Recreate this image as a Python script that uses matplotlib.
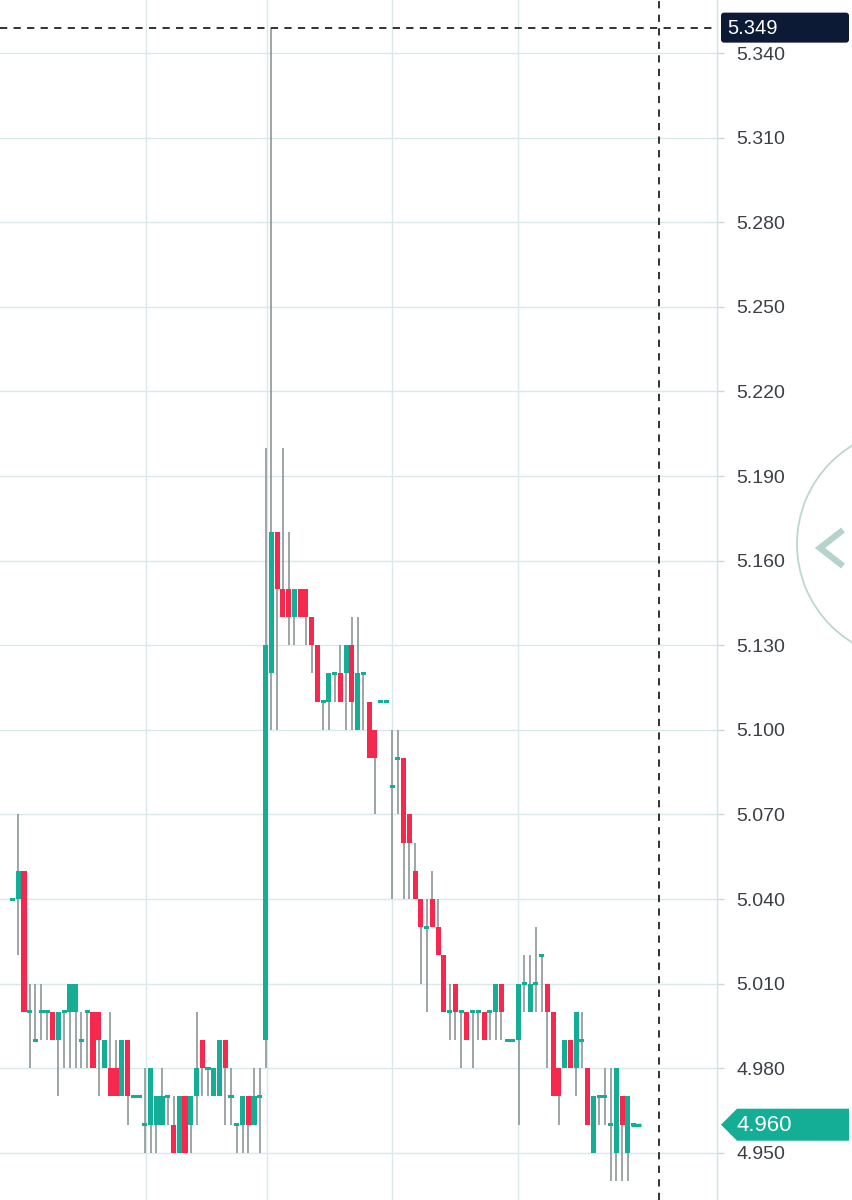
import numpy as np
import matplotlib.pyplot as plt
from matplotlib.patches import Polygon, FancyBboxPatch, Arc

# OHLC values (one entry per candle)
opens = [5.04, 5.04, 5.05, 5.00, 4.99, 5.00, 5.00, 5.00, 4.99, 5.00,
         5.00, 5.00, 4.99, 5.00, 5.00, 5.00, 4.98, 4.98, 4.98, 4.97,
         4.99, 4.97, 4.97, 4.96, 4.96, 4.96, 4.96, 4.97, 4.96, 4.95,
         4.97, 4.96, 4.97, 4.99, 4.98, 4.97, 4.97, 4.99, 4.97, 4.96,
         4.96, 4.97, 4.96, 4.97, 4.99, 5.12, 5.17, 5.15, 5.15, 5.14,
         5.15, 5.15, 5.14, 5.13, 5.11, 5.11, 5.12, 5.12, 5.12, 5.13,
         5.10, 5.12, 5.11, 5.10, 5.11, 5.11, 5.08, 5.09, 5.09, 5.07,
         5.05, 5.04, 5.03, 5.04, 5.03, 5.02, 5.00, 5.01, 5.00, 5.00,
         5.00, 5.00, 5.00, 5.00, 5.00, 5.01, 4.99, 4.99, 4.99, 5.01,
         5.00, 5.01, 5.02, 5.01, 5.00, 4.98, 4.98, 4.99, 4.98, 4.99,
         4.98, 4.95, 4.97, 4.97, 4.96, 4.95, 4.97, 4.95, 4.96]
highs = [5.04, 5.07, 5.05, 5.01, 5.01, 5.01, 5.00, 5.00, 5.00, 5.00,
         5.01, 5.01, 5.00, 5.00, 5.00, 5.00, 4.99, 5.00, 4.99, 4.99,
         4.99, 4.97, 4.97, 4.98, 4.98, 4.97, 4.98, 4.97, 4.97, 4.97,
         4.97, 4.97, 5.00, 4.99, 4.98, 4.98, 4.99, 4.99, 4.98, 4.96,
         4.97, 4.97, 4.98, 4.98, 5.20, 5.349, 5.17, 5.20, 5.17, 5.15,
         5.15, 5.15, 5.14, 5.13, 5.11, 5.12, 5.12, 5.13, 5.13, 5.14,
         5.14, 5.12, 5.11, 5.10, 5.11, 5.11, 5.10, 5.10, 5.09, 5.07,
         5.06, 5.04, 5.04, 5.05, 5.04, 5.02, 5.01, 5.01, 5.00, 5.00,
         5.00, 5.00, 5.00, 5.00, 5.01, 5.01, 4.99, 4.99, 5.01, 5.02,
         5.02, 5.03, 5.02, 5.01, 5.00, 4.98, 4.99, 4.99, 5.00, 5.00,
         4.98, 4.97, 4.97, 4.98, 4.98, 4.98, 4.97, 4.97, 4.96]
lows = [5.04, 5.02, 5.00, 4.98, 4.99, 4.99, 4.99, 4.99, 4.97, 4.98,
        4.98, 4.98, 4.98, 4.98, 4.98, 4.97, 4.98, 4.97, 4.97, 4.97,
        4.96, 4.97, 4.97, 4.95, 4.95, 4.95, 4.96, 4.96, 4.95, 4.95,
        4.95, 4.95, 4.96, 4.97, 4.97, 4.97, 4.97, 4.96, 4.96, 4.95,
        4.95, 4.95, 4.96, 4.95, 4.98, 5.10, 5.10, 5.14, 5.13, 5.13,
        5.14, 5.13, 5.12, 5.11, 5.10, 5.10, 5.11, 5.11, 5.10, 5.10,
        5.10, 5.10, 5.09, 5.07, 5.11, 5.11, 5.04, 5.07, 5.04, 5.04,
        5.04, 5.01, 5.00, 5.03, 5.02, 5.00, 4.99, 4.99, 4.98, 4.99,
        4.98, 4.99, 4.99, 4.99, 4.99, 4.99, 4.99, 4.99, 4.96, 5.00,
        5.00, 5.00, 5.00, 4.98, 4.97, 4.96, 4.98, 4.98, 4.97, 4.98,
        4.96, 4.95, 4.96, 4.96, 4.94, 4.94, 4.94, 4.94, 4.96]
closes = [5.04, 5.05, 5.00, 5.00, 4.99, 5.00, 5.00, 4.99, 5.00, 5.00,
          5.01, 5.01, 4.99, 5.00, 4.98, 4.99, 4.99, 4.97, 4.97, 4.99,
          4.97, 4.97, 4.97, 4.96, 4.98, 4.97, 4.97, 4.97, 4.95, 4.97,
          4.95, 4.97, 4.98, 4.98, 4.98, 4.98, 4.99, 4.98, 4.97, 4.96,
          4.97, 4.96, 4.97, 4.97, 5.13, 5.17, 5.15, 5.14, 5.14, 5.15,
          5.14, 5.14, 5.13, 5.11, 5.11, 5.12, 5.12, 5.11, 5.13, 5.11,
          5.12, 5.12, 5.09, 5.09, 5.11, 5.11, 5.08, 5.09, 5.06, 5.06,
          5.04, 5.03, 5.03, 5.03, 5.02, 5.00, 5.00, 5.00, 5.00, 4.99,
          5.00, 5.00, 4.99, 5.00, 5.01, 5.00, 4.99, 4.99, 5.01, 5.01,
          5.01, 5.01, 5.02, 5.00, 4.97, 4.97, 4.99, 4.98, 5.00, 4.99,
          4.96, 4.97, 4.97, 4.97, 4.96, 4.98, 4.96, 4.97, 4.96]

price_ticks = [4.950, 4.980, 5.010, 5.040, 5.070, 5.100, 5.130, 5.160,
               5.190, 5.220, 5.250, 5.280, 5.310, 5.340]
time_grid = [23.2, 44.2, 66.0, 87.9]   # vertical grid positions (candle index)
cursor_x = 112.4                       # crosshair position (candle index)
cursor_price = 5.349
last_price = 4.960

up_color = '#13ae95'
down_color = '#f7284d'
wick_color = '#8c9696'
grid_color = '#d9e8e8'

W, H = 853, 1200
fig = plt.figure(figsize=(W / 100, H / 100), dpi=100)
fig.patch.set_facecolor('white')
ax = fig.add_axes([0, 0, 717 / W, 1])

ymin, ymax = 4.9333, 5.3588
ax.set_ylim(ymin, ymax)
ax.set_xlim(-2.17, 122.5)
px = (ymax - ymin) / H   # one pixel in price units

o = np.array(opens)
h = np.array(highs)
l = np.array(lows)
c = np.array(closes)
idx = np.arange(len(o))

# wicks
ax.vlines(idx, l, h, color=wick_color, linewidth=1.2, zorder=3)

# bodies (flat candles get a thin 3px bar)
up = c >= o
bottom = np.minimum(o, c)
height = np.abs(c - o)
doji = height < 1e-9
bottom = np.where(doji, o - 1.5 * px, bottom)
height = np.where(doji, 3 * px, height)
colors = np.where(up, up_color, down_color)
ax.bar(idx, height, bottom=bottom, width=0.88, color=colors,
       linewidth=0, zorder=4)

# grid and axes styling
ax.set_yticks(price_ticks)
ax.set_xticks(time_grid)
ax.grid(True, color=grid_color, linewidth=1.0, zorder=0)
ax.set_axisbelow(True)
ax.yaxis.tick_right()
ax.set_yticklabels([f'{v:.3f}' for v in price_ticks])
ax.tick_params(axis='y', length=5, width=1, color='#c9d9d9', pad=9,
               labelsize=14, labelcolor='#3b3f45')
ax.tick_params(axis='x', length=0, labelbottom=False)
for lab in ax.get_yticklabels():
    lab.set_fontfamily('Liberation Sans')
for side in ['top', 'bottom', 'left']:
    ax.spines[side].set_visible(False)
ax.spines['right'].set_color('#d3e3e3')
ax.spines['right'].set_linewidth(1.0)

# crosshair
ax.axhline(cursor_price, color='#222222', linewidth=1.3,
           linestyle=(0, (4, 3.5)), zorder=6)
ax.axvline(cursor_x, color='#222222', linewidth=1.3,
           linestyle=(0, (4, 3.5)), zorder=6)

# last price marker on the chart
ax.hlines(last_price, len(o) - 1.4, len(o) + 0.2, color=up_color,
          linewidth=2.5, zorder=5)

# overlay in pixel coordinates for the price scale labels and handle
ov = fig.add_axes([0, 0, 1, 1], zorder=20)
ov.set_xlim(0, W)
ov.set_ylim(H, 0)
ov.axis('off')
ov.patch.set_alpha(0)


def price_to_px(p):
    return H - ax.transData.transform((0, p))[1]


yc = price_to_px(cursor_price)
ov.add_patch(FancyBboxPatch((721, yc - 15), 128, 30,
                            boxstyle='round,pad=0,rounding_size=3',
                            facecolor='#0c1a36', edgecolor='none'))
ov.text(727, yc + 1, f'{cursor_price:.3f}', color='white', fontsize=14.5,
        family='Liberation Sans', va='center', ha='left')

yl = price_to_px(last_price)
ov.add_patch(Polygon([(721, yl), (737, yl - 16), (849, yl - 16),
                      (849, yl + 16), (737, yl + 16)], closed=True,
                     facecolor=up_color, edgecolor='none'))
ov.text(737, yl + 1, f'{last_price:.3f}', color='white', fontsize=16,
        family='Liberation Sans', va='center', ha='left')

# collapse handle on the right edge
ov.add_patch(Arc((912.5, 544), 231, 231, color='#bcd6d1', linewidth=1.3))
ov.plot([843, 820, 843], [530, 548, 566], color='#b4d3cd',
        linewidth=4.5, solid_capstyle='butt', solid_joinstyle='miter')

fig.savefig('out.png', dpi=100)
